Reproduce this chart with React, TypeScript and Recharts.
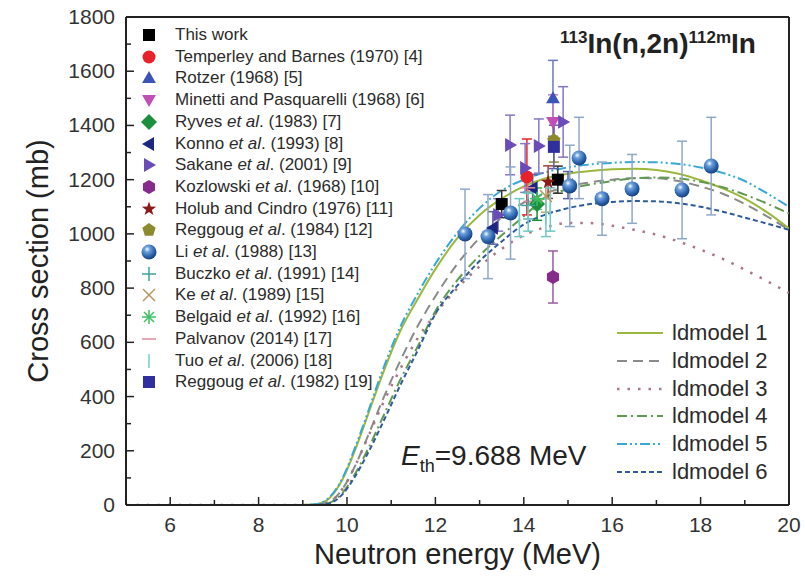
import React from 'react';
import { ComposedChart, Line, Scatter, XAxis, YAxis, ErrorBar, ReferenceLine } from 'recharts';

const FONT = "'Liberation Sans', Arial, sans-serif";

// energy grid for the level-density model curves (MeV)
const energies = [5, 9, 9.3, 9.6, 9.9, 10.2, 10.5, 10.8, 11.2, 11.6, 12, 12.5, 13, 13.5, 14, 14.5, 15, 15.5, 16, 16.5, 17, 17.5, 18, 18.5, 19, 19.5, 20];

const ldmodel1 = [0, 0, 3, 25, 95, 210, 345, 480, 640, 760, 870, 985, 1070, 1130, 1175, 1205, 1222, 1232, 1238, 1240, 1236, 1222, 1198, 1168, 1130, 1080, 1020];
const ldmodel2 = [0, 0, 1, 12, 60, 150, 265, 385, 530, 660, 770, 890, 985, 1060, 1115, 1150, 1175, 1190, 1200, 1206, 1205, 1195, 1175, 1148, 1110, 1065, 1015];
const ldmodel3 = [0, 0, 1, 12, 60, 150, 260, 370, 500, 615, 705, 800, 880, 945, 995, 1025, 1040, 1040, 1030, 1015, 997, 972, 942, 908, 868, 826, 782];
const ldmodel4 = [0, 0, 0, 8, 45, 120, 215, 320, 460, 585, 715, 830, 920, 995, 1065, 1135, 1165, 1182, 1195, 1205, 1208, 1205, 1192, 1172, 1145, 1112, 1075];
const ldmodel5 = [0, 0, 3, 28, 100, 220, 355, 495, 655, 780, 890, 1005, 1095, 1160, 1200, 1228, 1245, 1256, 1262, 1265, 1264, 1258, 1245, 1225, 1195, 1150, 1100];
const ldmodel6 = [0, 0, 0, 6, 40, 110, 200, 300, 440, 570, 705, 810, 900, 972, 1035, 1072, 1095, 1110, 1118, 1121, 1120, 1113, 1100, 1082, 1060, 1038, 1015];

// measured points: [energy, cross section, uncertainty]
const thisWork = [[13.5, 1110, 50], [14.77, 1200, 50]];
const temperley = [[14.07, 1210, 140]];
const rotzer = [[14.66, 1500, 140]];
const minetti = [[14.66, 1413, 100]];
const ryves = [[14.3, 1110, 60]];
const konno = [[13.3, 1022, 60], [14.2, 1169, 50], [15.0, 1180, 50]];
const sakane = [[13.42, 1070, 60], [13.69, 1328, 110], [14.03, 1243, 90], [14.34, 1324, 100], [14.89, 1413, 130]];
const kozlowski = [[14.66, 841, 96]];
const holub = [[14.55, 1191, 60]];
const reggoug84 = [[14.68, 1345, 80]];
const li = [[12.67, 1000, 165], [13.19, 990, 155], [13.7, 1077, 170], [15.04, 1177, 150], [15.25, 1280, 150], [15.77, 1130, 135], [16.45, 1166, 127], [17.58, 1162, 180], [18.24, 1250, 180]];
const buczko = [[14.1, 1105, 50]];
const ke = [[14.5, 1140, 60]];
const belgaid = [[14.3, 1130, 40]];
const palvanov = [[14.1, 1170, 50]];
const tuo = [[13.9, 1060, 70], [14.1, 1080, 70], [14.5, 1060, 70], [14.6, 1090, 80]];
const reggoug82 = [[14.68, 1321, 80]];

const xTicks = [5, 6, 7, 8, 9, 10, 11, 12, 13, 14, 15, 16, 17, 18, 19, 20];
const yTicks = [0, 100, 200, 300, 400, 500, 600, 700, 800, 900, 1000, 1100, 1200, 1300, 1400, 1500, 1600, 1700, 1800];

const toLine = (ys: number[]) => energies.map((x, i) => ({ x, y: ys[i] }));
const toPts = (rows: number[][]) => rows.map(([x, y, err]) => ({ x, y, err }));

const models = [
  { name: 'ldmodel 1', data: ldmodel1, color: '#9bb83c', dash: undefined, w: 2 },
  { name: 'ldmodel 2', data: ldmodel2, color: '#8a8a8a', dash: '10 6', w: 2 },
  { name: 'ldmodel 3', data: ldmodel3, color: '#a87880', dash: '2.5 8', w: 2.5 },
  { name: 'ldmodel 4', data: ldmodel4, color: '#5f9a50', dash: '10 4 2 4', w: 2 },
  { name: 'ldmodel 5', data: ldmodel5, color: '#37a9d6', dash: '10 3 2 3 2 3', w: 2 },
  { name: 'ldmodel 6', data: ldmodel6, color: '#2f5b9a', dash: '5 3', w: 2 },
];

const series = [
  { name: ['This work'], data: thisWork, kind: 'square', color: '#000000', bar: '#333333' },
  { name: ['Temperley and Barnes (1970) [4]'], data: temperley, kind: 'circle', color: '#e8222a', bar: '#e8222a' },
  { name: ['Rotzer (1968) [5]'], data: rotzer, kind: 'triUp', color: '#3a55b5', bar: '#6a78c0' },
  { name: ['Minetti and Pasquarelli (1968) [6]'], data: minetti, kind: 'triDown', color: '#c04fb8', bar: '#c080c0' },
  { name: ['Ryves ', 'et al', '. (1983) [7]'], data: ryves, kind: 'diamond', color: '#1b8f3c', bar: '#1b8f3c' },
  { name: ['Konno ', 'et al', '. (1993) [8]'], data: konno, kind: 'triLeft', color: '#1d2782', bar: '#5a5fa8' },
  { name: ['Sakane ', 'et al', '. (2001) [9]'], data: sakane, kind: 'triRight', color: '#6a4cb6', bar: '#8676c4' },
  { name: ['Kozlowski ', 'et al', '. (1968) [10]'], data: kozlowski, kind: 'hexagon', color: '#862a8c', bar: '#9a5aa0' },
  { name: ['Holub and Cindro (1976) [11]'], data: holub, kind: 'star', color: '#8b1a1a', bar: '#a04040' },
  { name: ['Reggoug ', 'et al', '. (1984) [12]'], data: reggoug84, kind: 'pentagon', color: '#8c8a2c', bar: '#8c8a2c' },
  { name: ['Li ', 'et al', '. (1988) [13]'], data: li, kind: 'sphere', color: '#2f6db5', bar: '#8ea8c8' },
  { name: ['Buczko ', 'et al', '. (1991) [14]'], data: buczko, kind: 'plus', color: '#3fa0a0', bar: '#5fb0b0' },
  { name: ['Ke ', 'et al', '. (1989) [15]'], data: ke, kind: 'cross', color: '#b89560', bar: '#c0a070' },
  { name: ['Belgaid ', 'et al', '. (1992) [16]'], data: belgaid, kind: 'asterisk', color: '#3cc060', bar: '#60c070' },
  { name: ['Palvanov (2014) [17]'], data: palvanov, kind: 'dash', color: '#e08aa0', bar: '#e08aa0' },
  { name: ['Tuo ', 'et al', '. (2006) [18]'], data: tuo, kind: 'vbar', color: '#70d0c8', bar: '#70c8c0' },
  { name: ['Reggoug ', 'et al', '. (1982) [19]'], data: reggoug82, kind: 'square2', color: '#2f2f9e', bar: '#6060b0' },
];

const poly = (cx: number, cy: number, r: number, n: number, rot: number) =>
  Array.from({ length: n }, (_, i) => {
    const a = rot + (i * 2 * Math.PI) / n;
    return `${cx + r * Math.cos(a)},${cy + r * Math.sin(a)}`;
  }).join(' ');

const starPts = (cx: number, cy: number, ro: number, ri: number) =>
  Array.from({ length: 10 }, (_, i) => {
    const a = -Math.PI / 2 + (i * Math.PI) / 5;
    const r = i % 2 === 0 ? ro : ri;
    return `${cx + r * Math.cos(a)},${cy + r * Math.sin(a)}`;
  }).join(' ');

function Marker({ kind, cx, cy, color }: { kind: string; cx: number; cy: number; color: string }) {
  switch (kind) {
    case 'square':
    case 'square2':
      return <rect x={cx - 6} y={cy - 6} width={12} height={12} fill={color} />;
    case 'circle':
      return <circle cx={cx} cy={cy} r={6.5} fill={color} />;
    case 'triUp':
      return <polygon points={poly(cx, cy + 1, 8, 3, -Math.PI / 2)} fill={color} />;
    case 'triDown':
      return <polygon points={poly(cx, cy - 1, 8, 3, Math.PI / 2)} fill={color} />;
    case 'triLeft':
      return <polygon points={poly(cx + 1, cy, 8, 3, Math.PI)} fill={color} />;
    case 'triRight':
      return <polygon points={poly(cx - 1, cy, 8, 3, 0)} fill={color} />;
    case 'diamond':
      return <polygon points={poly(cx, cy, 8, 4, 0)} fill={color} />;
    case 'hexagon':
      return <polygon points={poly(cx, cy, 7, 6, Math.PI / 6)} fill={color} />;
    case 'pentagon':
      return <polygon points={poly(cx, cy, 7, 5, -Math.PI / 2)} fill={color} />;
    case 'star':
      return <polygon points={starPts(cx, cy, 7.5, 3)} fill={color} />;
    case 'sphere':
      return <circle cx={cx} cy={cy} r={7.5} fill="url(#sphereGrad)" />;
    case 'plus':
      return (
        <g stroke={color} strokeWidth={1.5}>
          <line x1={cx - 7} x2={cx + 7} y1={cy} y2={cy} />
          <line x1={cx} x2={cx} y1={cy - 7} y2={cy + 7} />
        </g>
      );
    case 'cross':
      return (
        <g stroke={color} strokeWidth={1.5}>
          <line x1={cx - 6} x2={cx + 6} y1={cy - 6} y2={cy + 6} />
          <line x1={cx - 6} x2={cx + 6} y1={cy + 6} y2={cy - 6} />
        </g>
      );
    case 'asterisk':
      return (
        <g stroke={color} strokeWidth={1.5}>
          <line x1={cx - 7} x2={cx + 7} y1={cy} y2={cy} />
          <line x1={cx} x2={cx} y1={cy - 7} y2={cy + 7} />
          <line x1={cx - 5} x2={cx + 5} y1={cy - 5} y2={cy + 5} />
          <line x1={cx - 5} x2={cx + 5} y1={cy + 5} y2={cy - 5} />
        </g>
      );
    case 'dash':
      return <line x1={cx - 7} x2={cx + 7} y1={cy} y2={cy} stroke={color} strokeWidth={1.5} />;
    case 'vbar':
      return <line x1={cx} x2={cx} y1={cy - 7} y2={cy + 7} stroke={color} strokeWidth={1.5} />;
    default:
      return null;
  }
}

const XTick = (props: any) => {
  const { x, y, payload } = props;
  const v = payload.value;
  const major = v % 2 === 0;
  return (
    <g>
      <line x1={x} x2={x} y1={y} y2={y - (major ? 8 : 5)} stroke="#222" strokeWidth={1.5} />
      {major && (
        <text x={x} y={y + 27} textAnchor="middle" fontSize={21} fill="#333" fontFamily={FONT}>
          {v}
        </text>
      )}
    </g>
  );
};

const YTick = (props: any) => {
  const { x, y, payload } = props;
  const v = payload.value;
  const major = v % 200 === 0;
  return (
    <g>
      <line x1={x} x2={x + (major ? 8 : 5)} y1={y} y2={y} stroke="#222" strokeWidth={1.5} />
      {major && (
        <text x={x - 11} y={y + 7} textAnchor="end" fontSize={21} fill="#333" fontFamily={FONT}>
          {v}
        </text>
      )}
    </g>
  );
};

export default function App() {
  return (
    <div style={{ position: 'absolute', left: 0, top: 0, width: 805, height: 582, background: '#fff', fontFamily: FONT }}>
      <svg width={0} height={0} style={{ position: 'absolute' }}>
        <defs>
          <radialGradient id="sphereGrad" cx="0.38" cy="0.32" r="0.7">
            <stop offset="0" stopColor="#ffffff" />
            <stop offset="0.25" stopColor="#6fa2dc" />
            <stop offset="0.7" stopColor="#2a62ad" />
            <stop offset="1" stopColor="#173f7a" />
          </radialGradient>
        </defs>
      </svg>
      <ComposedChart width={805} height={582} margin={{ top: 17, right: 16, bottom: 0, left: 0 }}>
        <XAxis
          dataKey="x"
          type="number"
          domain={[5, 20]}
          ticks={xTicks}
          interval={0}
          allowDataOverflow
          height={77}
          tickSize={0}
          tickMargin={0}
          tick={<XTick />}
          axisLine={{ stroke: '#222', strokeWidth: 2 }}
        />
        <YAxis
          type="number"
          domain={[0, 1800]}
          ticks={yTicks}
          interval={0}
          allowDataOverflow
          width={126}
          tickSize={0}
          tickMargin={0}
          tick={<YTick />}
          axisLine={{ stroke: '#222', strokeWidth: 2 }}
        />
        <ReferenceLine y={1800} stroke="#222" strokeWidth={2} />
        <ReferenceLine x={20} stroke="#222" strokeWidth={2} />
        {models.map((m) => (
          <Line
            key={m.name}
            data={toLine(m.data)}
            dataKey="y"
            type="monotone"
            stroke={m.color}
            strokeWidth={m.w}
            strokeDasharray={m.dash}
            dot={false}
            activeDot={false}
            isAnimationActive={false}
          />
        ))}
        {series.map((s, i) => (
          <Scatter
            key={i}
            data={toPts(s.data)}
            dataKey="y"
            isAnimationActive={false}
            shape={(p: any) => <Marker kind={s.kind} cx={p.cx} cy={p.cy} color={s.color} />}
          >
            <ErrorBar dataKey="err" direction="y" width={5} stroke={s.bar} strokeWidth={1.5} />
          </Scatter>
        ))}
      </ComposedChart>

      {/* legend of data sets */}
      <div style={{ position: 'absolute', left: 140, top: 24 }}>
        {series.map((s, i) => (
          <div key={i} style={{ position: 'absolute', left: 0, top: i * 21.7, height: 22, whiteSpace: 'nowrap' }}>
            <svg width={20} height={22} style={{ position: 'absolute', left: 0, top: 0 }}>
              <Marker kind={s.kind} cx={9} cy={11} color={s.color} />
            </svg>
            <span style={{ position: 'absolute', left: 35, top: 1, fontSize: 17, lineHeight: '20px', color: '#2b2b2b' }}>
              {s.name.map((t, j) => (j === 1 ? <i key={j}>{t}</i> : <span key={j}>{t}</span>))}
            </span>
          </div>
        ))}
      </div>

      {/* legend of model curves */}
      <div style={{ position: 'absolute', left: 615, top: 319 }}>
        {models.map((m, i) => (
          <div key={m.name} style={{ position: 'absolute', left: 0, top: i * 27.8, height: 28, whiteSpace: 'nowrap' }}>
            <svg width={50} height={28} style={{ position: 'absolute', left: 0, top: 0 }}>
              <line x1={2} x2={48} y1={14} y2={14} stroke={m.color} strokeWidth={m.w} strokeDasharray={m.dash} />
            </svg>
            <span style={{ position: 'absolute', left: 57, top: 1, fontSize: 22, lineHeight: '26px', color: '#2b2b2b' }}>{m.name}</span>
          </div>
        ))}
      </div>

      {/* reaction title */}
      <div style={{ position: 'absolute', left: 560, top: 28, fontWeight: 'bold', fontSize: 28, color: '#222', whiteSpace: 'nowrap' }}>
        <sup style={{ fontSize: 17 }}>113</sup>In(n,2n)<sup style={{ fontSize: 17 }}>112m</sup>In
      </div>

      {/* threshold annotation */}
      <div style={{ position: 'absolute', left: 401, top: 440, fontSize: 28, color: '#222', whiteSpace: 'nowrap' }}>
        <i>E</i>
        <sub style={{ fontSize: 18 }}>th</sub>=9.688 MeV
      </div>

      {/* axis titles */}
      <div style={{ position: 'absolute', left: 0, top: 538, width: 915, textAlign: 'center', fontSize: 29, color: '#222' }}>
        Neutron energy (MeV)
      </div>
      <div
        style={{
          position: 'absolute',
          left: 38,
          top: 261,
          transform: 'translate(-50%, -50%) rotate(-90deg)',
          fontSize: 29,
          color: '#222',
          whiteSpace: 'nowrap',
        }}
      >
        Cross section (mb)
      </div>
    </div>
  );
}
